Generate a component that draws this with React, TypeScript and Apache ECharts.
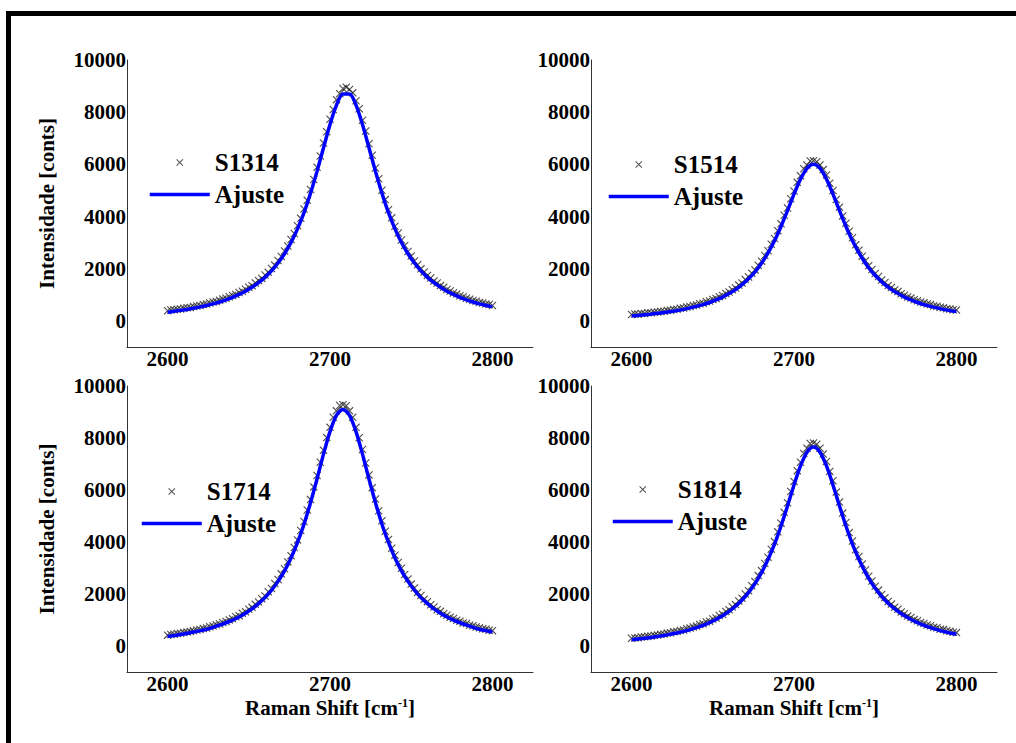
import React, { useEffect, useRef } from "react";
import * as echarts from "echarts";

// Raman shift sampling of measured points (cm^-1)
const ramanShift = [
  2600, 2602, 2604, 2606, 2608, 2610, 2612, 2614, 2616, 2618,
  2620, 2622, 2624, 2626, 2628, 2630, 2632, 2634, 2636, 2638,
  2640, 2642, 2644, 2646, 2648, 2650, 2652, 2654, 2656, 2658,
  2660, 2662, 2664, 2666, 2668, 2670, 2672, 2674, 2676, 2678,
  2680, 2682, 2684, 2686, 2688, 2690, 2692, 2694, 2696, 2698,
  2700, 2702, 2704, 2706, 2708, 2710, 2712, 2714, 2716, 2718,
  2720, 2722, 2724, 2726, 2728, 2730, 2732, 2734, 2736, 2738,
  2740, 2742, 2744, 2746, 2748, 2750, 2752, 2754, 2756, 2758,
  2760, 2762, 2764, 2766, 2768, 2770, 2772, 2774, 2776, 2778,
  2780, 2782, 2784, 2786, 2788, 2790, 2792, 2794, 2796, 2798,
  2800,
];

// Raman shift sampling of the fitted curves (cm^-1)
const fitShift = [
  2600, 2604, 2608, 2612, 2616, 2620, 2624, 2628, 2632, 2636,
  2640, 2644, 2648, 2652, 2656, 2660, 2664, 2668, 2672, 2676,
  2680, 2684, 2688, 2692, 2696, 2700, 2704, 2708, 2712, 2716,
  2720, 2724, 2728, 2732, 2736, 2740, 2744, 2748, 2752, 2756,
  2760, 2764, 2768, 2772, 2776, 2780, 2784, 2788, 2792, 2796,
  2800,
];

const s1314Counts = [
  392, 418, 431, 447, 455, 489, 506, 518, 551, 575,
  590, 631, 648, 690, 722, 747, 796, 835, 866, 925,
  975, 1016, 1089, 1137, 1215, 1288, 1352, 1455, 1548, 1630,
  1762, 1862, 2011, 2139, 2316, 2470, 2680, 2870, 3120, 3350,
  3650, 3930, 4290, 4620, 5040, 5420, 5890, 6320, 6820, 7250,
  7730, 8100, 8480, 8710, 8910, 8960, 8870, 8740, 8440, 8130,
  7690, 7280, 6790, 6350, 5860, 5450, 5010, 4650, 4260, 3950,
  3630, 3370, 3100, 2890, 2660, 2485, 2296, 2152, 1995, 1878,
  1744, 1645, 1532, 1452, 1354, 1287, 1203, 1148, 1074, 1028,
  962, 924, 866, 833, 783, 756, 709, 688, 645, 627,
  590,
];
const s1314Fit = [
  334, 369, 404, 440, 484, 537, 590, 652, 723, 803,
  900, 1015, 1139, 1289, 1466, 1670, 1918, 2219, 2573, 3006,
  3529, 4148, 4891, 5732, 6635, 7529, 8272, 8697, 8697, 8272,
  7529, 6635, 5732, 4891, 4148, 3529, 3006, 2573, 2219, 1918,
  1670, 1466, 1289, 1139, 1015, 900, 803, 723, 652, 590,
  537,
];

const s1514Counts = [
  248, 262, 259, 285, 288, 310, 312, 335, 344, 365,
  372, 402, 411, 440, 448, 484, 497, 533, 552, 590,
  614, 660, 681, 739, 761, 825, 862, 930, 972, 1055,
  1108, 1198, 1262, 1372, 1455, 1583, 1684, 1830, 1955, 2136,
  2290, 2505, 2690, 2940, 3160, 3460, 3720, 4050, 4330, 4680,
  4980, 5310, 5560, 5830, 5980, 6130, 6140, 6100, 5980, 5800,
  5590, 5280, 5000, 4655, 4360, 4025, 3745, 3435, 3185, 2915,
  2712, 2482, 2310, 2118, 1972, 1815, 1700, 1566, 1470, 1358,
  1278, 1184, 1123, 1040, 985, 916, 874, 812, 774, 725,
  693, 646, 626, 576, 562, 522, 507, 470, 457, 428,
  418,
];
const s1514Fit = [
  193, 211, 236, 260, 290, 321, 358, 394, 443, 498,
  559, 626, 705, 803, 913, 1047, 1199, 1388, 1614, 1883,
  2212, 2608, 3072, 3621, 4225, 4859, 5433, 5848, 6000, 5848,
  5433, 4859, 4225, 3621, 3072, 2608, 2212, 1883, 1614, 1388,
  1199, 1047, 913, 803, 705, 626, 559, 498, 443, 394,
  358,
];

const s1714Counts = [
  417, 441, 450, 480, 490, 516, 534, 562, 582, 618,
  636, 676, 690, 742, 768, 818, 850, 901, 946, 1004,
  1046, 1126, 1168, 1258, 1318, 1415, 1486, 1602, 1690, 1822,
  1925, 2085, 2212, 2402, 2560, 2775, 2970, 3235, 3475, 3790,
  4080, 4440, 4790, 5230, 5630, 6120, 6555, 7070, 7530, 8015,
  8410, 8800, 9045, 9250, 9280, 9240, 9045, 8800, 8410, 8010,
  7555, 7040, 6580, 6090, 5655, 5200, 4815, 4415, 4100, 3760,
  3495, 3210, 2990, 2752, 2578, 2380, 2230, 2062, 1940, 1800,
  1706, 1584, 1500, 1396, 1332, 1240, 1182, 1110, 1060, 990,
  956, 886, 862, 802, 778, 728, 703, 662, 648, 606,
  590,
];
const s1714Fit = [
  369, 406, 443, 489, 535, 590, 645, 719, 802, 894,
  995, 1114, 1262, 1427, 1630, 1860, 2145, 2485, 2890, 3387,
  3985, 4684, 5512, 6423, 7380, 8244, 8870, 9100, 8870, 8244,
  7380, 6423, 5512, 4684, 3985, 3387, 2890, 2485, 2145, 1860,
  1630, 1427, 1262, 1114, 995, 894, 802, 719, 645, 590,
  535,
];

const s1814Counts = [
  299, 312, 318, 345, 352, 378, 383, 410, 420, 448,
  460, 496, 508, 544, 556, 600, 618, 662, 688, 735,
  765, 824, 852, 925, 955, 1036, 1080, 1172, 1222, 1330,
  1395, 1512, 1592, 1735, 1838, 2002, 2128, 2320, 2476, 2708,
  2900, 3172, 3415, 3725, 4015, 4390, 4725, 5140, 5510, 5945,
  6330, 6745, 7070, 7405, 7610, 7790, 7810, 7760, 7610, 7380,
  7100, 6715, 6355, 5920, 5535, 5112, 4752, 4362, 4040, 3700,
  3440, 3150, 2925, 2682, 2500, 2296, 2150, 1980, 1860, 1710,
  1612, 1494, 1412, 1308, 1240, 1150, 1098, 1016, 972, 906,
  868, 806, 780, 718, 700, 646, 630, 585, 566, 530,
  515,
];
const s1814Fit = [
  243, 267, 298, 329, 368, 407, 454, 500, 562, 632,
  710, 796, 897, 1021, 1161, 1333, 1527, 1768, 2056, 2399,
  2819, 3324, 3916, 4616, 5386, 6195, 6926, 7456, 7650, 7456,
  6926, 6195, 5386, 4616, 3916, 3324, 2819, 2399, 2056, 1768,
  1527, 1333, 1161, 1021, 897, 796, 710, 632, 562, 500,
  454,
];

const sampleNames = ["S1314", "S1514", "S1714", "S1814"];
const fitName = "Ajuste";
const xTicks = [2600, 2700, 2800];
const yTicks = [0, 2000, 4000, 6000, 8000, 10000];
const xName = "Raman Shift [cm";
const yName = "Intensidade [conts]";

const countsList = [s1314Counts, s1514Counts, s1714Counts, s1814Counts];
const fitList = [s1314Fit, s1514Fit, s1714Fit, s1814Fit];

const FONT = "'Liberation Serif', 'Times New Roman', serif";
const CROSS = "path://M0,1L1,0L10,9L9,10Z M9,0L10,1L1,10L0,9Z";

const grids = [
  { left: 127, top: 60, width: 406, height: 287 },
  { left: 591, top: 60, width: 406, height: 287 },
  { left: 127, top: 386, width: 406, height: 286 },
  { left: 591, top: 386, width: 406, height: 286 },
];
const legendPos = [
  [143, 145],
  [602, 147],
  [135, 474],
  [606, 472],
];

export default function App() {
  const ref = useRef<HTMLDivElement>(null);
  useEffect(() => {
    if (!ref.current) return;
    const chart = echarts.init(ref.current, undefined, { renderer: "svg" });
    const labelStyle = {
      fontFamily: FONT,
      fontWeight: "bold" as const,
      fontSize: 21,
      color: "#000",
    };
    const plain = (v: number) => String(v);
    const option: any = {
      animation: false,
      backgroundColor: "#fff",
      graphic: [
        {
          type: "rect",
          silent: true,
          shape: { x: 8.5, y: 13.5, width: 1100, height: 900 },
          style: { fill: "none", stroke: "#000", lineWidth: 5 },
        },
      ],
      grid: grids.map((g) => ({ ...g, containLabel: false })),
      xAxis: grids.map((_, i) => ({
        type: "value",
        gridIndex: i,
        min: 2575,
        max: 2825,
        axisLine: { show: true, onZero: false, lineStyle: { color: "#333", width: 1 } },
        axisTick: { show: false },
        splitLine: { show: false },
        axisLabel: { ...labelStyle, customValues: xTicks, margin: 1, formatter: plain },
        ...(i >= 2
          ? {
              name: `{a|${xName}}{s|-1}{a|]}`,
              nameLocation: "middle",
              nameGap: 25,
              nameTextStyle: {
                rich: {
                  a: { ...labelStyle },
                  s: { fontFamily: FONT, fontWeight: "bold", fontSize: 12, color: "#000", verticalAlign: "top" },
                },
              },
            }
          : {}),
      })),
      yAxis: grids.map((_, i) => ({
        type: "value",
        gridIndex: i,
        min: -1000,
        max: 10000,
        axisLine: { show: true, onZero: false, lineStyle: { color: "#333", width: 1 } },
        axisTick: { show: false },
        splitLine: { show: false },
        axisLabel: { ...labelStyle, customValues: yTicks, margin: 1, formatter: plain },
        ...(i % 2 === 0
          ? {
              name: yName,
              nameLocation: "middle",
              nameRotate: 90,
              nameGap: 70,
              nameTextStyle: { ...labelStyle },
            }
          : {}),
      })),
      legend: sampleNames.map((n, i) => ({
        orient: "vertical",
        left: legendPos[i][0],
        top: legendPos[i][1],
        itemWidth: 60,
        itemHeight: 7,
        itemGap: 7,
        selectedMode: false,
        textStyle: { fontFamily: FONT, fontWeight: "bold", fontSize: 25, color: "#000" },
        data: [
          { name: n, icon: CROSS },
          {
            name: fitName,
            lineStyle: { width: 3.5, color: "#0000ff" },
            itemStyle: { color: "rgba(0,0,0,0)", opacity: 0, borderWidth: 0 },
          },
        ],
      })),
      series: [
        ...sampleNames.map((n, i) => ({
          type: "scatter",
          name: n,
          xAxisIndex: i,
          yAxisIndex: i,
          symbol: CROSS,
          symbolSize: 8,
          symbolKeepAspect: true,
          itemStyle: { color: "#222" },
          z: 2,
          data: ramanShift.map((x, j) => [x, countsList[i][j]]),
        })),
        ...sampleNames.map((_, i) => ({
          type: "line",
          name: fitName,
          xAxisIndex: i,
          yAxisIndex: i,
          symbol: "none",
          smooth: 0.3,
          lineStyle: { color: "#0000ff", width: 3.5 },
          itemStyle: { color: "#0000ff" },
          z: 3,
          data: fitShift.map((x, j) => [x, fitList[i][j]]),
        })),
      ],
    };
    chart.setOption(option);
    return () => chart.dispose();
  }, []);
  return (
    <div
      ref={ref}
      style={{ position: "fixed", left: 0, top: 0, width: 1016, height: 743, background: "#fff" }}
    />
  );
}
